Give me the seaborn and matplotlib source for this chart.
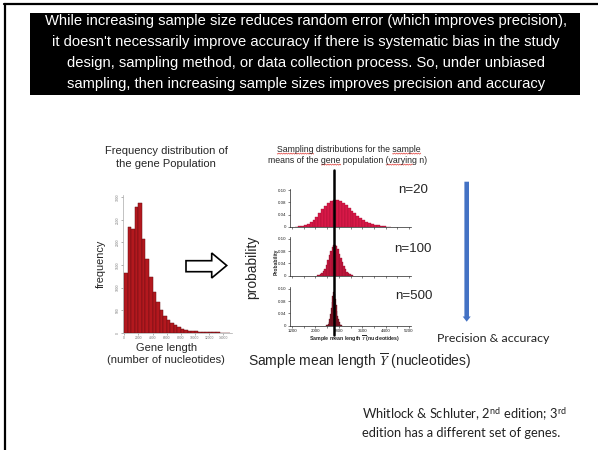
import numpy as np
import pandas as pd
import matplotlib
matplotlib.use("Agg")
import matplotlib.pyplot as plt
import matplotlib.transforms as mtransforms
from matplotlib.patches import Rectangle, Polygon
from matplotlib.lines import Line2D
import seaborn as sns

# ---------------- data ----------------
gene_bin_width = 500
gene_bin_range = (0, 15000)
gene_counts = [1325, 2345, 2293, 2777, 2866, 2085, 1623, 1243, 900, 670,
               500, 372, 290, 210, 160, 118, 88, 64, 48, 36,
               27, 20, 15, 12, 9, 7, 5, 4, 3, 2]
gene_xticks = [0, 2000, 4000, 6000, 8000, 10000, 12000, 14000]
gene_yticks = [0, 500, 1000, 1500, 2000, 2500, 3000]

pop_mean = 2622

n20_start, n20_width = 1300, 100
n20_probs = [0.001, 0.002, 0.003, 0.006, 0.010, 0.016, 0.024, 0.034, 0.046, 0.058,
             0.069, 0.078, 0.085, 0.089, 0.088, 0.084, 0.078, 0.071, 0.062, 0.053,
             0.044, 0.036, 0.029, 0.023, 0.017, 0.013, 0.009, 0.007, 0.005, 0.003,
             0.002, 0.0015, 0.001]
n100_start, n100_width = 2050, 50
n100_probs = [0.001, 0.002, 0.004, 0.008, 0.014, 0.023, 0.035, 0.050, 0.066, 0.081,
              0.093, 0.100, 0.101, 0.096, 0.086, 0.072, 0.057, 0.043, 0.031, 0.021,
              0.013, 0.008, 0.005, 0.003, 0.001]
n500_start, n500_width = 2375, 25
n500_probs = [0.001, 0.003, 0.006, 0.012, 0.022, 0.037, 0.056, 0.077, 0.096, 0.108,
              0.110, 0.102, 0.087, 0.068, 0.049, 0.033, 0.021, 0.012, 0.006, 0.003,
              0.001]
sample_sizes = ["n=20", "n=100", "n=500"]
panel_xticks = [1200, 2000, 2800, 3600, 4400, 5200]
panel_minor_xticks = [1200, 1600, 2000, 2400, 2800, 3200, 3600, 4000, 4400, 4800, 5200]
panel_yticks = [0, 0.04, 0.08, 0.12]
panel_yticklabels = ["0", "0.04", "0.08", "0.10"]

title_lines = [
    "While increasing sample size reduces random error (which improves precision),",
    "it doesn't necessarily improve accuracy if there is systematic bias in the study",
    "design, sampling method, or data collection process. So, under unbiased",
    "sampling, then increasing sample sizes improves precision and accuracy",
]
sampling_title = ["Sampling distributions for the sample",
                  "means of the gene population (varying n)"]
# words marked by the spell-checker squiggle: (line index, word start index, word)
squiggle_words = [(0, 0, "Sampling"), (0, 31, "sample"), (1, 13, "gene"), (1, 29, "varying")]

# ---------------- style ----------------
sns.set_theme(style="white")
plt.rcParams["font.family"] = ["Liberation Sans", "DejaVu Sans"]
plt.rcParams["mathtext.fontset"] = "custom"
plt.rcParams["mathtext.rm"] = "Lato"
plt.rcParams["mathtext.it"] = "STIXGeneral:italic"
plt.rcParams["mathtext.bf"] = "Lato:bold"

W, H = 598, 450
fig = plt.figure(figsize=(W / 100, H / 100), dpi=100)
fig.patch.set_facecolor("white")
renderer = fig.canvas.get_renderer()


def fx(x):
    return x / W


def fy(y):
    return 1 - y / H


def axes_px(left, top, right, bottom):
    return fig.add_axes([left / W, 1 - bottom / H, (right - left) / W, (bottom - top) / H])


def text_width(s, fontsize):
    t = fig.text(0, 0, s + "|", fontsize=fontsize)
    w = t.get_window_extent(renderer).width
    t.remove()
    t2 = fig.text(0, 0, "|", fontsize=fontsize)
    w2 = t2.get_window_extent(renderer).width
    t2.remove()
    return w - w2


# slide frame
fig.add_artist(Line2D([fx(4), fx(598)], [fy(4), fy(4)], color="black", lw=1.6))
fig.add_artist(Line2D([fx(5), fx(5)], [fy(4), fy(450)], color="black", lw=1.6))

# black title box
fig.add_artist(Rectangle((fx(30), fy(95)), fx(580) - fx(30), fy(13) - fy(95),
                         transform=fig.transFigure, facecolor="black", edgecolor="none"))
for i, line in enumerate(title_lines):
    fig.text(fx(306), fy(21.5 + i * 20.8), line, color="white", fontsize=10.65,
             ha="center", va="center")

# ---------------- population histogram ----------------
axh = axes_px(122.9, 195.0, 231.5, 332.7)
gene_centers = [gene_bin_range[0] + gene_bin_width * (i + 0.5) for i in range(len(gene_counts))]
gdf = pd.DataFrame({"length": gene_centers, "count": gene_counts})
sns.histplot(data=gdf, x="length", weights="count", binwidth=gene_bin_width,
             binrange=gene_bin_range, color="#b3181e", edgecolor="#6a0f14",
             linewidth=0.35, alpha=1, ax=axh)
axh.set_xlim(-200, 15200)
axh.set_ylim(0, 3050)
axh.set_xticks(gene_xticks)
axh.set_xticklabels([str(t) for t in gene_xticks], fontsize=2.4, color="#444")
axh.set_yticks(gene_yticks)
axh.set_yticklabels([str(t) for t in gene_yticks], fontsize=2.4, color="#444", rotation=90, va="center")
axh.tick_params(bottom=True, left=True, length=1.5, width=0.4, pad=1, colors="#777")
for s in ["top", "right"]:
    axh.spines[s].set_visible(False)
for s in ["left", "bottom"]:
    axh.spines[s].set_color("#aaa")
    axh.spines[s].set_linewidth(0.5)
axh.set_xlabel("")
axh.set_ylabel("")
axh.patch.set_alpha(0)

fig.text(fx(166), fy(151), "Frequency distribution of", fontsize=8, ha="center", va="center")
fig.text(fx(166), fy(164), "the gene Population", fontsize=8, ha="center", va="center")
fig.text(fx(101), fy(264), "frequency", fontsize=7.8, rotation=90, ha="center", va="center")
fig.text(fx(167), fy(348), "Gene length", fontsize=8, ha="center", va="center")
fig.text(fx(166), fy(360), "(number of nucleotides)", fontsize=8, ha="center", va="center")

# hollow arrow
arrow_pts = [(186, 260.7), (211.7, 260.7), (211.7, 253), (226.7, 265.5),
             (211.7, 278), (211.7, 271.7), (186, 271.7)]
fig.add_artist(Polygon([(fx(a), fy(b)) for a, b in arrow_pts], closed=True,
                       transform=fig.transFigure, facecolor="white",
                       edgecolor="black", lw=1.2))

# ---------------- sampling distribution panels ----------------
panels = [
    (n20_start, n20_width, n20_probs, "#d81848", "#9e0f30", 188.5, 227.0),
    (n100_start, n100_width, n100_probs, "#c8173f", "#8c0e2a", 237.2, 275.7),
    (n500_start, n500_width, n500_probs, "#8f1a2c", "#5a0d18", 287.2, 325.7),
]
panel_axes = []
for k, (start, width, probs, col, ecol, top, bottom) in enumerate(panels):
    ax = axes_px(290, top, 410.5, bottom)
    centers = [start + width * (i + 0.5) for i in range(len(probs))]
    pdf = pd.DataFrame({"mean": centers, "p": probs})
    sns.histplot(data=pdf, x="mean", weights="p", binwidth=width,
                 binrange=(start, start + width * len(probs)),
                 color=col, edgecolor=ecol, linewidth=0.25, alpha=1, ax=ax)
    ax.set_xlim(1130, 5250)
    ax.set_ylim(0, 0.125)
    ax.set_xticks(panel_xticks)
    ax.set_xticks(panel_minor_xticks, minor=True)
    if k == 2:
        ax.set_xticklabels([str(t) for t in panel_xticks], fontsize=3.2)
    else:
        ax.set_xticklabels([])
    ax.set_yticks(panel_yticks)
    ax.set_yticklabels(panel_yticklabels, fontsize=3.2)
    ax.tick_params(which="both", bottom=True, left=True, length=1.6, width=0.4, pad=1, colors="#222")
    for s in ["top", "right"]:
        ax.spines[s].set_visible(False)
    for s in ["left", "bottom"]:
        ax.spines[s].set_color("#222")
        ax.spines[s].set_linewidth(0.5)
    ax.set_xlabel("")
    ax.set_ylabel("")
    ax.patch.set_alpha(0)
    panel_axes.append(ax)

# population mean line across all panels
trans = mtransforms.blended_transform_factory(panel_axes[2].transData, fig.transFigure)
fig.add_artist(Line2D([pop_mean, pop_mean], [fy(170), fy(335)], transform=trans,
                      color="black", lw=1.8, zorder=5))

st_size = 6.3
st_centers = [(349, 149), (348, 160)]
for line, (cx, cy) in zip(sampling_title, st_centers):
    fig.text(fx(cx), fy(cy), line, fontsize=st_size, ha="center", va="center")
for li, idx, word in squiggle_words:
    line = sampling_title[li]
    cx, cy = st_centers[li]
    total = text_width(line, st_size)
    left = cx - total / 2
    x0 = left + text_width(line[:idx], st_size) if idx > 0 else left
    x1 = left + text_width(line[:idx + len(word)], st_size)
    xs = np.linspace(x0, x1, max(int((x1 - x0) * 2), 4))
    ys = cy + 4.6 + 0.55 * np.sin((xs - x0) * np.pi / 1.2)
    fig.add_artist(Line2D([fx(v) for v in xs], [fy(v) for v in ys], color="#e0302a", lw=0.45))

fig.text(fx(276), fy(262), "Probability", fontsize=3.6, fontweight="bold", rotation=90, ha="center", va="center")
fig.text(fx(355), fy(339.5), r"Sample mean length $\overline{Y}$ (nucleotides)", fontsize=3.8,
         fontweight="bold", ha="center", va="center")

for lbl, (xp, yp) in zip(sample_sizes, [(398, 190), (394, 249), (395, 296)]):
    fig.text(fx(xp), fy(yp), lbl, fontsize=9.6, ha="left", va="center")

fig.text(fx(252), fy(267), "probability", fontsize=10, rotation=90, ha="center", va="center")
fig.text(fx(248), fy(361), r"Sample mean length $\overline{Y}$ (nucleotides)", fontsize=10,
         ha="left", va="center")

# blue arrow
blue_pts = [(464.4, 181.7), (469.0, 181.7), (469.0, 316.5), (470.7, 316.5),
            (466.7, 321.7), (462.7, 316.5), (464.4, 316.5)]
fig.add_artist(Polygon([(fx(a), fy(b)) for a, b in blue_pts], closed=True,
                       transform=fig.transFigure, facecolor="#4472c4", edgecolor="none"))
fig.text(fx(437), fy(339), "Precision & accuracy", fontsize=8.9, family="Lato",
         ha="left", va="center", color="#222")

fig.text(fx(362), fy(414), r"Whitlock & Schluter, 2$^{\mathrm{nd}}$ edition; 3$^{\mathrm{rd}}$",
         fontsize=9.3, family="Lato", ha="left", va="center", color="#222")
fig.text(fx(362), fy(433), "edition has a different set of genes.",
         fontsize=9.3, family="Lato", ha="left", va="center", color="#222")

fig.savefig("out.png", dpi=100)
